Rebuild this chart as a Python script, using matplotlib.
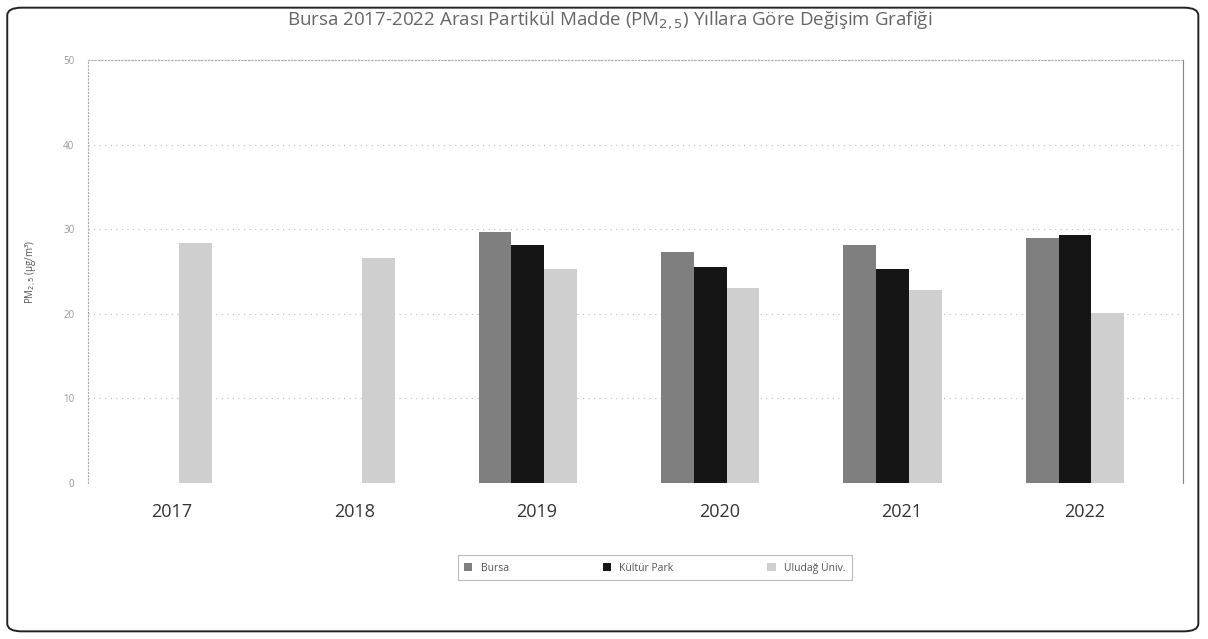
import numpy as np
import matplotlib.pyplot as plt
from matplotlib.patches import FancyBboxPatch

# values (PM2.5, µg/m³)
years = ['2017', '2018', '2019', '2020', '2021', '2022']
bursa = [np.nan, np.nan, 29.7, 27.3, 28.1, 29.0]
kultur_park = [np.nan, np.nan, 28.1, 25.5, 25.3, 29.3]
uludag = [28.4, 26.6, 25.3, 23.0, 22.8, 20.1]

series = [('Bursa', bursa, '#7f7f7f'),
          ('Kültür Park', kultur_park, '#151515'),
          ('Uludağ Üniv.', uludag, '#cfcfcf')]

plt.rcParams['font.family'] = ['Open Sans', 'DejaVu Sans']

fig = plt.figure(figsize=(12.08, 6.39), dpi=100)
ax = fig.add_axes([0.073, 0.244, 0.906, 0.662])

x = np.arange(len(years))
w = 0.18
for i, (name, vals, col) in enumerate(series):
    ax.bar(x + (i - 1) * w, vals, width=w, color=col, label=name, zorder=3)

ax.set_xlim(-0.41, len(years) - 0.41)
ax.set_ylim(0, 50)
ax.set_yticks(range(0, 51, 10))
ax.set_xticks(x + 0.05)
ax.set_xticklabels(years, fontsize=13, color='#333333')
ax.tick_params(axis='y', labelsize=7, colors='#999999', length=0, pad=10)
ax.tick_params(axis='x', length=0, pad=14)
ax.yaxis.grid(True, linestyle=(0, (1, 4)), color='#bbbbbb', linewidth=0.8, zorder=0)
for s in ax.spines.values():
    s.set_color('#aaaaaa')
    s.set_linewidth(0.8)
    s.set_linestyle((0, (1, 2)))
ax.spines['right'].set_linestyle('-')
ax.spines['right'].set_color('#888888')
ax.spines['bottom'].set_visible(False)

ax.set_ylabel('PM$_{2,5}$ (µg/m³)', fontsize=7, color='#555555', labelpad=18)

fig.text(0.505, 0.968, 'Bursa 2017-2022 Arası Partikül Madde (PM$_{2,5}$) Yıllara Göre Değişim Grafiği',
         ha='center', va='center', fontsize=13.5, color='#666666')

leg = fig.legend(loc='center', bbox_to_anchor=(0.379, 0.092, 0.326, 0.04), mode='expand', ncol=3,
                 fontsize=7.5, frameon=True, fancybox=False, handlelength=0.8, handleheight=0.8,
                 borderpad=0.6, borderaxespad=0, labelcolor='#555555')
leg.get_frame().set_edgecolor('#aaaaaa')
leg.get_frame().set_linewidth(0.8)

# rounded border around the whole chart
border = FancyBboxPatch((0.006, 0.012), 0.986, 0.976, boxstyle='round,pad=0,rounding_size=0.012',
                        transform=fig.transFigure, fill=False, edgecolor='#222222', linewidth=1.4)
fig.patches.append(border)

fig.savefig('out.png', dpi=100)
